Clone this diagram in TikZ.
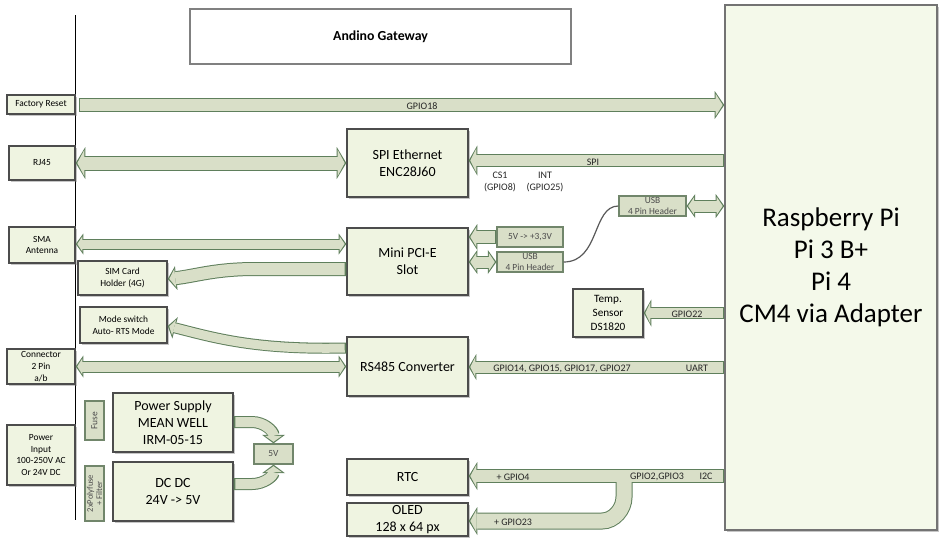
\documentclass[tikz,border=0pt]{standalone}
\usepackage{fontspec}
\setmainfont{Carlito}
\usetikzlibrary{arrows.meta}
\usetikzlibrary{shadows}
\usetikzlibrary{calc}

\definecolor{boxfill}{HTML}{EFF4E1}
\definecolor{pifill}{HTML}{F4F9EA}
\definecolor{flowfill}{HTML}{D9DFC8}
\definecolor{flowline}{HTML}{5F7F5C}
\definecolor{tagline}{HTML}{71866B}

\newcommand{\sidesize}{\fontsize{4.7}{5.9}\selectfont}
\newcommand{\coresize}{\fontsize{7}{8.5}\selectfont}
\newcommand{\lblsize}{\fontsize{5}{6.3}\selectfont}
\newcommand{\tagsize}{\fontsize{4.7}{5.4}\selectfont}

% block arrow in two layers: outline, then fill
\newcommand{\flowback}[5]{%   -- tips, body, head width, head length, path
	\pgfmathsetlengthmacro{\flowbody}{#2+1pt}%
	\pgfmathsetlengthmacro{\flowhead}{#3+3pt}%
	\pgfmathsetlengthmacro{\flowtip}{#4+1.3pt}%
	\draw[draw=flowline, line width=\flowbody, >={Triangle[width=\flowhead, length=\flowtip, line width=0pt]}, #1] #5;
}
\newcommand{\flowfront}[5]{%  -- tips, body, head width, head length, path
	\draw[draw=flowfill, line width=#2, shorten >=0.8pt, shorten <=0.8pt, >={Triangle[width=#3, length=#4, line width=0pt]}, #1] #5;
}
\newcommand{\flow}[5]{%
	\flowback{#1}{#2}{#3}{#4}{#5}
	\flowfront{#1}{#2}{#3}{#4}{#5}
}

\tikzset{
	box/.style={draw=black!70, line width=0.7pt, fill=boxfill, inner sep=0pt, align=center,
		drop shadow={shadow xshift=0.8pt, shadow yshift=-0.8pt, opacity=0.45}},
	side/.style={box, font=\sidesize},
	core/.style={box, font=\coresize},
	tag/.style={draw=tagline, line width=0.6pt, fill=flowfill, inner sep=0pt, align=center,
		text=black!70, font=\tagsize},
	title/.style={draw=black!50, line width=0.9pt, fill=white, inner sep=0pt,
		font=\bfseries\fontsize{6.9}{8}\selectfont},
	lbl/.style={inner sep=0pt, align=center, font=\lblsize, text=black!85},
	wire/.style={draw=black!65, line width=0.6pt},
}

\begin{document}
\begin{tikzpicture}[x=0.5pt, y=-0.5pt]
\useasboundingbox (0,0) rectangle (941,537);

\draw[line width=0.5pt] (75,15) -- (75,520);

\node[title, minimum width=190.5pt, minimum height=27.5pt] (gateway) at (380.5,36.5) {Andino Gateway};

\node[box, fill=pifill, draw=black!55, font=\fontsize{13.5}{16}\selectfont,
	minimum width=106pt, minimum height=262.5pt] (rpi) at (831,267.5)
	{Raspberry Pi\\Pi 3 B+\\Pi 4\\CM4 via Adapter};

% outside connectors
\node[side, minimum width=34pt, minimum height=9.5pt] (reset) at (41,104.5) {Factory Reset};
\node[side, minimum width=33pt, minimum height=17pt] (rj45) at (42,163) {RJ45};
\node[side, minimum width=33pt, minimum height=18pt] (sma) at (42,245) {SMA\\Antenna};
\node[side, minimum width=44.5pt, minimum height=17pt] (sim) at (122.5,278) {SIM Card\\Holder (4G)};
\node[side, minimum width=43.5pt, minimum height=18pt] (mode) at (123.5,325) {Mode switch\\Auto- RTS Mode};
\node[side, minimum width=34pt, minimum height=17.5pt] (conn) at (41,366.5) {Connector\\2 Pin\\a/b};
\node[side, minimum width=34pt, minimum height=30pt] (pwrin) at (41,455) {Power\\Input\\100-250V AC\\Or 24V DC};

% power
\node[tag, rotate=90, minimum width=19.5pt, minimum height=9.5pt] (fuse) at (94.5,420.5) {Fuse};
\node[tag, rotate=90, minimum width=27.5pt, minimum height=9.5pt, font=\fontsize{4.3}{4.6}\selectfont] (poly) at (94.5,493.5) {2xPolyfuse\\+ Filter};
\node[core, minimum width=60pt, minimum height=29.5pt] (psu) at (173,422.5) {Power Supply\\MEAN WELL\\IRM-05-15};
\node[core, minimum width=60pt, minimum height=29.5pt] (dcdc) at (173,491.5) {DC DC\\24V -> 5V};
\node[tag, minimum width=19.5pt, minimum height=10pt] (fivev) at (273.5,454) {5V};

% modules
\node[core, minimum width=60.5pt, minimum height=34pt] (eth) at (407.5,163) {SPI Ethernet\\ENC28J60};
\node[core, minimum width=60.5pt, minimum height=33.5pt] (pcie) at (407.5,261.5) {Mini PCI-E\\Slot};
\node[core, minimum width=60.5pt, minimum height=29.5pt] (rs485) at (407.5,366.5) {RS485 Converter};
\node[core, minimum width=60.5pt, minimum height=18pt] (rtc) at (407.5,477) {RTC};
\node[core, minimum width=60.5pt, minimum height=16.5pt] (oled) at (407.5,519.5) {OLED\\128 x 64 px};
\node[box, font=\fontsize{5.6}{7}\selectfont, minimum width=35pt, minimum height=24pt] (temp) at (608,313) {Temp.\\Sensor\\DS1820};
\node[tag, minimum width=33pt, minimum height=10pt] (v33) at (530,237) {5V -> +3,3V};
\node[tag, minimum width=33pt, minimum height=10pt] (usbl) at (530,262) {USB\\4 Pin Header};
\node[tag, minimum width=33.5pt, minimum height=10pt] (usbh) at (652.5,206) {USB\\4 Pin Header};

% links
\flow{->}{6pt}{11pt}{3.5pt}{($(reset.east)+(3,0.5)$) -- (rpi.west |- 0,105)}
\flow{<->}{6.5pt}{13pt}{3.5pt}{(rj45.east) -- (eth.west)}
\flow{->}{5.5pt}{12pt}{3pt}{(rpi.west |- 0,160.5) -- (eth.east |- 0,160.5)}
\flow{<->}{4.5pt}{7.5pt}{2.5pt}{(sma.east |- 0,244) -- (pcie.west |- 0,244)}
\flow{->}{6pt}{9pt}{3pt}{(pcie.west |- 0,269) -- (255,269) .. controls (215,269) and (195,276) .. (sim.east |- 0,279)}
\flow{->}{4.5pt}{8pt}{2.5pt}{(rs485.west |- 0,348) .. controls (255,350) and (215,338) .. (mode.east |- 0,326)}
\flow{<->}{5pt}{8pt}{2.5pt}{(conn.east) -- (rs485.west |- conn.east)}
\flow{->}{5.5pt}{10pt}{2.5pt}{(rpi.west |- 0,367) -- (rs485.east |- 0,367)}
\flow{->}{5pt}{10.5pt}{2.5pt}{(rpi.west |- temp.east) -- (temp.east)}
\flow{->}{6pt}{10pt}{3pt}{(v33.west) -- (pcie.east |- v33.west)}
\flow{<->}{5.5pt}{9pt}{3pt}{(pcie.east |- usbl.west) -- (usbl.west)}
\flow{<->}{5.5pt}{9pt}{3pt}{(usbh.east) -- (rpi.west |- usbh.east)}
\draw[wire] (usbl.east) .. controls (600,262) and (592,206) .. (usbh.west);

\flow{->}{5pt}{8.5pt}{3pt}{(psu.east |- 0,422) -- (252,422) .. controls (264,422) and (273.5,431) .. (fivev.north)}
\flow{->}{5pt}{8.5pt}{3pt}{(dcdc.east |- 0,484) -- (252,484) .. controls (264,484) and (273.5,476) .. (fivev.south)}

% i2c bus with branch to the display
\coordinate (tap) at (624,476);
\flowback{->}{6pt}{11pt}{3pt}{(rpi.west |- tap) -- (rtc.east |- tap)}
\flowback{->}{7.5pt}{11pt}{3pt}{(tap) -- (624,497) .. controls (624,509) and (614,521) .. (602,521) -- (oled.east |- 0,521)}
\flowfront{->}{7.5pt}{11pt}{3pt}{(tap) -- (624,497) .. controls (624,509) and (614,521) .. (602,521) -- (oled.east |- 0,521)}
\flowfront{->}{6pt}{11pt}{3pt}{(rpi.west |- tap) -- (rtc.east |- tap)}

% signal names
\node[lbl] (lgpio18) at (422,106) {GPIO18};
\node[lbl] (lspi) at (593,162) {SPI};
\node[lbl] (lcs) at (500,182) {CS1\\(GPIO8)};
\node[lbl] (lint) at (545,182) {INT\\(GPIO25)};
\node[lbl] (lgpio22) at (687,314) {GPIO22};
\node[lbl] (lgpios) at (562,369) {GPIO14, GPIO15, GPIO17, GPIO27};
\node[lbl] (luart) at (697,368) {UART};
\node[lbl] (lgpio4) at (513,477) {+ GPIO4};
\node[lbl] (lgpio23) at (513,522) {+ GPIO23};
\node[lbl] (lsda) at (657,477) {GPIO2,GPIO3};
\node[lbl] (li2c) at (706,476) {I2C};
\end{tikzpicture}
\end{document}
